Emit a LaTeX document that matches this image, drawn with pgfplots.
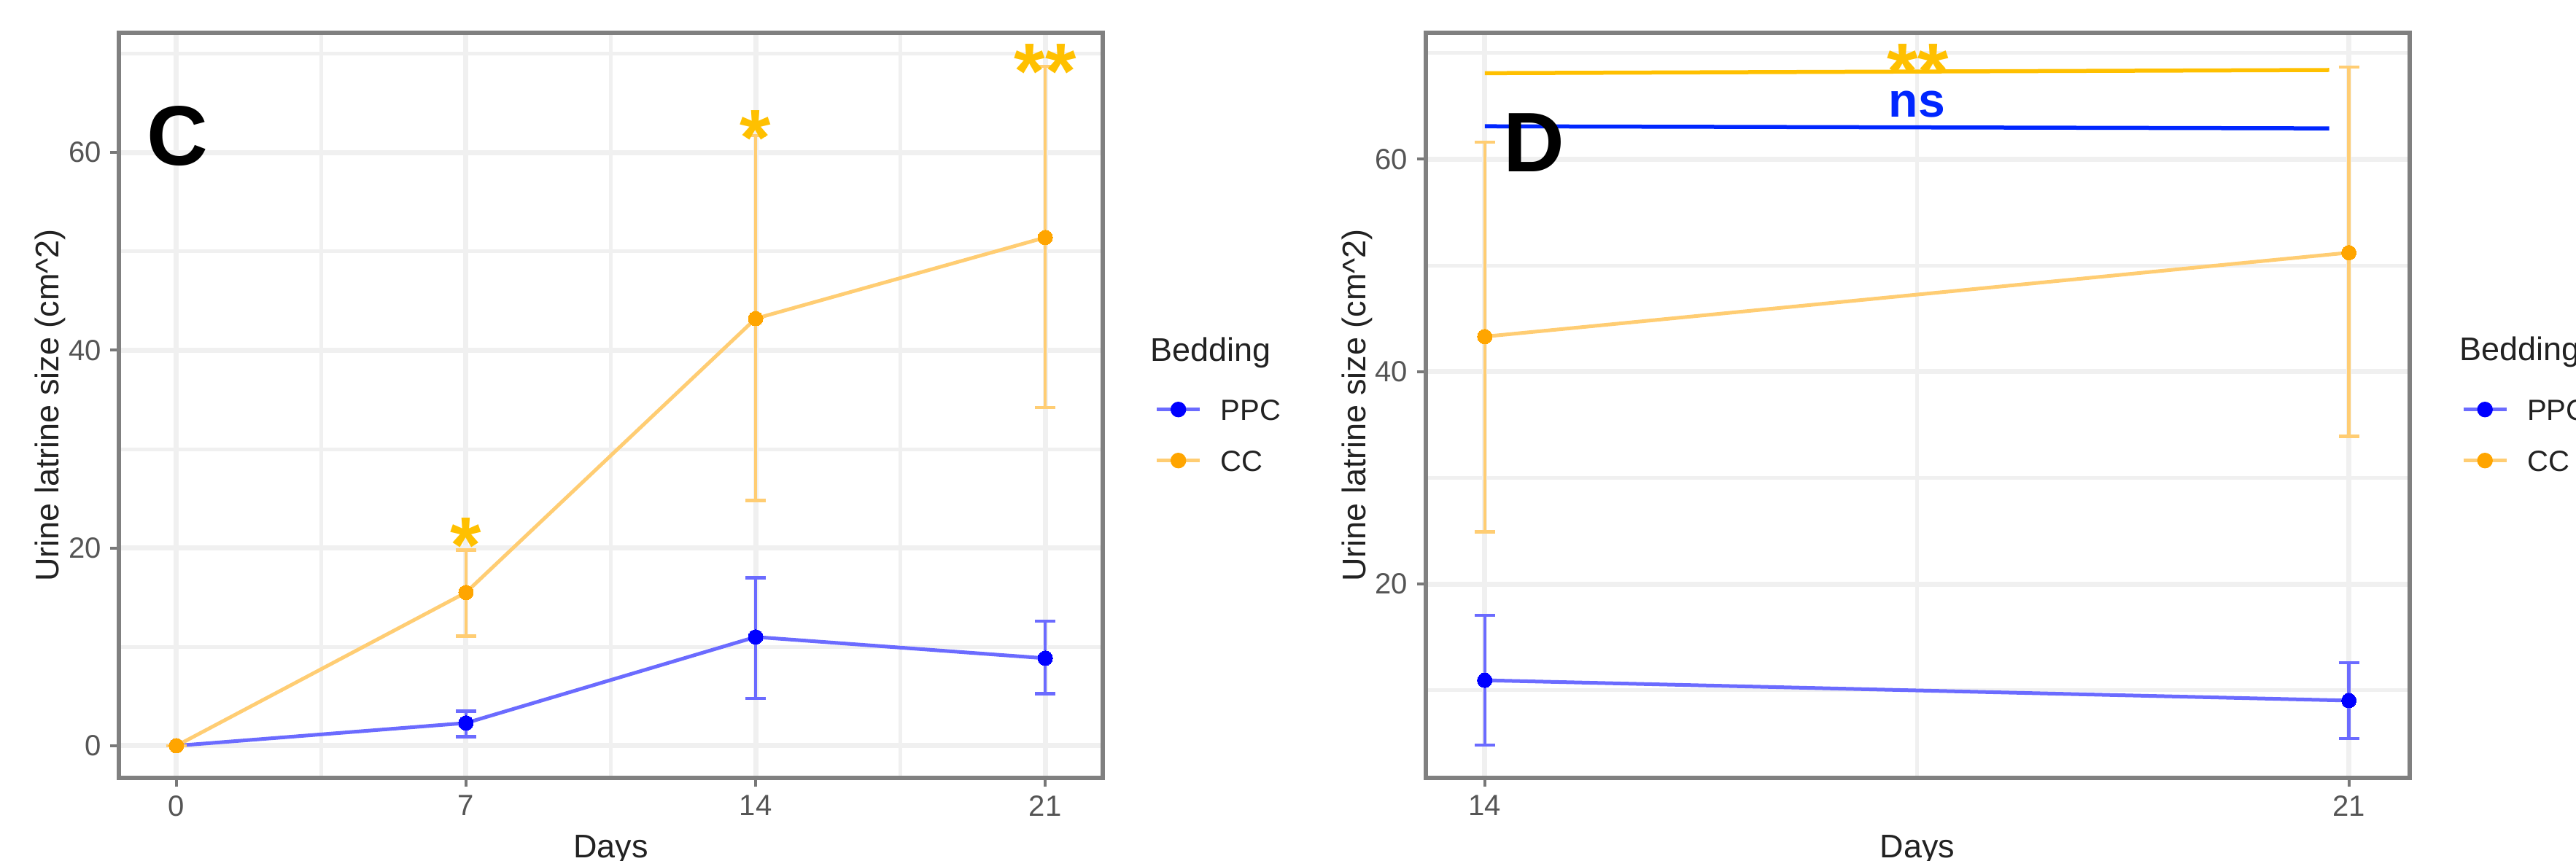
\documentclass[border=0pt]{standalone}
\usepackage{fontspec}
\setmainfont{Liberation Sans}
\usepackage{pgfplots}
\pgfplotsset{compat=1.18}

\definecolor{ppc}{RGB}{0,0,255}
\definecolor{ppcl}{RGB}{107,107,255}
\definecolor{cc}{RGB}{255,165,0}
\definecolor{ccl}{RGB}{255,205,115}
\definecolor{sigy}{RGB}{255,192,0}
\definecolor{nsb}{RGB}{0,38,255}
\definecolor{gridc}{RGB}{240,240,240}
\definecolor{framec}{RGB}{128,128,128}
\definecolor{tickc}{RGB}{120,120,120}
\definecolor{labc}{RGB}{85,85,85}
\definecolor{titc}{RGB}{34,34,34}

\tikzset{
  sigstar/.style={font=\fontsize{31}{31}\bfseries, text=sigy, anchor=base, inner sep=0pt},
  plab/.style={font=\fontsize{33}{33}\bfseries, anchor=base west, inner sep=0pt},
  legtitle/.style={font=\fontsize{12.8}{15}\selectfont, text=titc, anchor=base west, inner sep=0pt},
}

\pgfplotsset{
  panel/.style={
    scale only axis, width=134.9mm, height=102.2mm,
    clip=false,
    tick pos=left,
    grid=both,
    major grid style={draw=gridc, line width=0.7mm},
    minor grid style={draw=gridc, line width=0.5mm},
    minor tick length=0pt,
    major tick length=1.2mm,
    tick align=outside,
    tick style={draw=tickc, line width=0.4mm},
    axis line style={draw=framec, line width=0.6mm},
    ticklabel style={font=\fontsize{11.4}{13}\selectfont, text=labc},
    /pgf/number format/assume math mode=true,
    label style={font=\fontsize{12.8}{15}\selectfont, text=titc},
    xlabel={Days},
    ylabel={Urine latrine size (cm\textasciicircum 2)},
    xlabel style={at={(axis description cs:0.5,-0.1067)}, anchor=base},
    ylabel style={at={(axis description cs:-0.0608,0.5)}, anchor=base},
    legend cell align=left,
    legend style={at={(axis description cs:1.0526,0.5093)}, anchor=north west,
      draw=none, fill=none, inner sep=0pt, row sep=4.1mm,
      font=\fontsize{11.4}{13}\selectfont, text=titc,
      nodes={inner sep=0pt, text height=2.9mm, text depth=0mm},
      /tikz/every odd column/.style={column sep=2.6mm}},
  },
  ebar/.style={error bars/.cd, y dir=both, y explicit,
    error mark=-,
    error bar style={line width=0.45mm, draw=#1},
    error mark options={rotate=90, line width=0.45mm, mark size=1.4mm, draw=#1}},
  pts/.style={only marks, mark=*, mark size=1mm, forget plot,
    mark options={draw=#1, fill=#1, line width=0pt}},
}

\begin{document}
\begin{tikzpicture}
\useasboundingbox (-16.3mm,-11.3mm) rectangle (336.9mm,106.7mm);
\clip (-16.3mm,-11.3mm) rectangle (336.9mm,106.7mm);

% panel C
\begin{axis}[panel,
  xmin=-1.39, xmax=22.39, ymin=-3.25, ymax=72.1,
  xtick={0,7,14,21}, minor xtick={3.5,10.5,17.5},
  ytick={0,20,40,60}, minor ytick={10,30,50,70}]
\addplot[ppcl, line width=0.5mm, forget plot, ebar=ppcl] coordinates {
  (0,0) += (0,0) -= (0,0)
  (7,2.3) += (0,1.2) -= (0,1.4)
  (14,11.0) += (0,6.0) -= (0,6.2)
  (21,8.85) += (0,3.75) -= (0,3.6)};
\addplot[pts=ppc] coordinates {(0,0) (7,2.3) (14,11.0) (21,8.85)};
\addplot[ccl, line width=0.5mm, forget plot, ebar=ccl] coordinates {
  (0,0) += (0,0) -= (0,0)
  (7,15.5) += (0,4.3) -= (0,4.4)
  (14,43.2) += (0,18.5) -= (0,18.4)
  (21,51.4) += (0,17.3) -= (0,17.2)};
\addplot[pts=cc] coordinates {(0,0) (7,15.5) (14,43.2) (21,51.4)};
\node[sigstar] at (axis cs:7,17.5) {*};
\node[sigstar] at (axis cs:14,58.7) {*};
\node[sigstar] at (axis cs:21,65.4) {**};
\node[plab] at (axis cs:-0.72,58.7) {C};
\node[legtitle] at (axis description cs:1.048,0.5597) {Bedding};
\addlegendimage{legend image code/.code={
  \draw[draw=ppcl, line width=0.5mm] (0mm,0mm) -- (5.9mm,0mm);
  \fill[ppc] (2.95mm,0mm) circle (1mm);}}
\addlegendentry{PPC}
\addlegendimage{legend image code/.code={
  \draw[draw=ccl, line width=0.5mm] (0mm,0mm) -- (5.9mm,0mm);
  \fill[cc] (2.95mm,0mm) circle (1mm);}}
\addlegendentry{CC}
\end{axis}

% panel D
\begin{axis}[panel, at={(179.15mm,0mm)},
  xmin=13.52, xmax=21.49, ymin=1.75, ymax=71.9,
  xtick={14,21}, minor xtick={17.5},
  ytick={20,40,60}, minor ytick={10,30,50,70}]
\addplot[ppcl, line width=0.5mm, forget plot, ebar=ppcl] coordinates {
  (14,10.94) += (0,6.1) -= (0,6.1)
  (21,9.03) += (0,3.57) -= (0,3.56)};
\addplot[pts=ppc] coordinates {(14,10.94) (21,9.03)};
\addplot[ccl, line width=0.5mm, forget plot, ebar=ccl] coordinates {
  (14,43.3) += (0,18.3) -= (0,18.4)
  (21,51.2) += (0,17.46) -= (0,17.3)};
\addplot[pts=cc] coordinates {(14,43.3) (21,51.2)};
\addplot[sigy, line width=0.55mm, forget plot] coordinates {(14,68.1) (20.84,68.4)};
\addplot[nsb, line width=0.55mm, forget plot] coordinates {(14,63.1) (20.84,62.9)};
\node[sigstar] at (axis cs:17.51,65.7) {**};
\node[font=\fontsize{18.8}{19}\bfseries, text=nsb, anchor=base, inner sep=0pt] at (axis cs:17.5,63.98) {ns};
\node[plab] at (axis cs:14.149,58.8) {D};
\node[legtitle] at (axis description cs:1.0507,0.5597) {Bedding};
\addlegendimage{legend image code/.code={
  \draw[draw=ppcl, line width=0.5mm] (0mm,0mm) -- (5.9mm,0mm);
  \fill[ppc] (2.95mm,0mm) circle (1mm);}}
\addlegendentry{PPC}
\addlegendimage{legend image code/.code={
  \draw[draw=ccl, line width=0.5mm] (0mm,0mm) -- (5.9mm,0mm);
  \fill[cc] (2.95mm,0mm) circle (1mm);}}
\addlegendentry{CC}
\end{axis}
\end{tikzpicture}
\end{document}
